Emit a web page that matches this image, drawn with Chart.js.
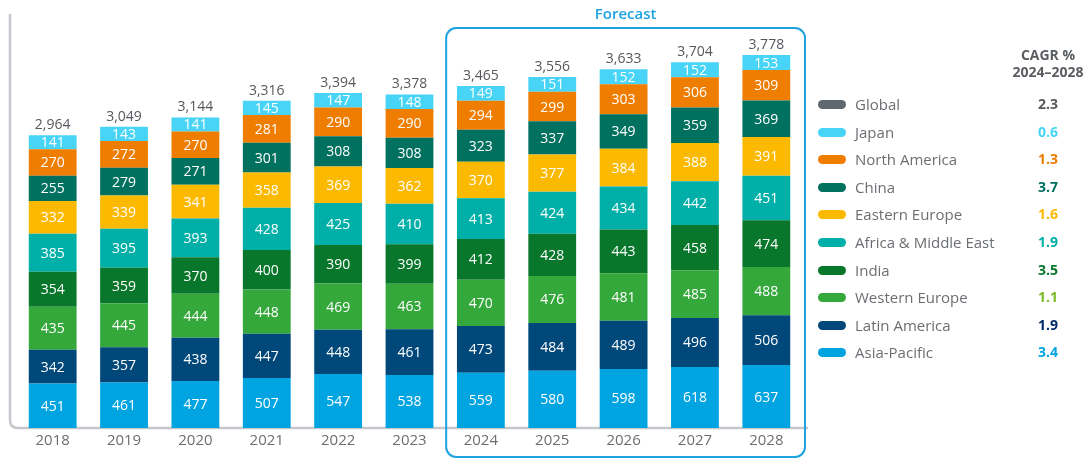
<!DOCTYPE html>
<html>
<head>
<meta charset="utf-8">
<script src="https://cdn.jsdelivr.net/npm/chart.js@4.4.1/dist/chart.umd.min.js"></script>
<style>
  html, body { margin: 0; padding: 0; background: #fff; }
  body { width: 1090px; height: 459px; position: relative; overflow: hidden; font-family: "Open Sans", sans-serif; }
  #wrap { position: absolute; left: 0; top: 0; width: 1090px; height: 459px; }
  #legend { position: absolute; left: 0; top: 0; }
  .row { position: absolute; left: 818px; height: 20px; width: 270px; }
  .sw { position: absolute; left: 0; top: 6px; width: 28px; height: 9px; border-radius: 5px; }
  .name { position: absolute; left: 37px; top: 0; font-size: 15px; line-height: 20px; color: #6b6e72; white-space: nowrap; }
  .val { position: absolute; left: 200px; width: 60px; text-align: center; top: 0; font-size: 14px; font-weight: bold; line-height: 20px; }
  .head { position: absolute; left: 1000px; width: 96px; top: 46px; text-align: center; font-size: 14px; font-weight: bold; color: #5a5d61; line-height: 17px; }
</style>
</head>
<body>
<div id="wrap"><canvas id="chart" width="1090" height="459"></canvas></div>
<div class="head">CAGR %<br>2024–2028</div>
<div id="legend"></div>
<script>
// categories
const years = ["2018", "2019", "2020", "2021", "2022", "2023", "2024", "2025", "2026", "2027", "2028"];

// series values (bottom of stack first)
const asiaPacific   = [451, 461, 477, 507, 547, 538, 559, 580, 598, 618, 637];
const latinAmerica  = [342, 357, 438, 447, 448, 461, 473, 484, 489, 496, 506];
const westernEurope = [435, 445, 444, 448, 469, 463, 470, 476, 481, 485, 488];
const india         = [354, 359, 370, 400, 390, 399, 412, 428, 443, 458, 474];
const africaME      = [385, 395, 393, 428, 425, 410, 413, 424, 434, 442, 451];
const easternEurope = [332, 339, 341, 358, 369, 362, 370, 377, 384, 388, 391];
const china         = [255, 279, 271, 301, 308, 308, 323, 337, 349, 359, 369];
const northAmerica  = [270, 272, 270, 281, 290, 290, 294, 299, 303, 306, 309];
const japan         = [141, 143, 141, 145, 147, 148, 149, 151, 152, 152, 153];

// printed totals on top of each bar
const totals = [2964, 3049, 3144, 3316, 3394, 3378, 3465, 3556, 3633, 3704, 3778];

// legend: names and CAGR 2024-2028, top to bottom
const legendNames = ["Global", "Japan", "North America", "China", "Eastern Europe", "Africa & Middle East", "India", "Western Europe", "Latin America", "Asia-Pacific"];
const cagrValues  = ["2.3", "0.6", "1.3", "3.7", "1.6", "1.9", "3.5", "1.1", "1.9", "3.4"];

const forecastFrom = "2024";

const colors = {
    "Global": "#5f686e",
    "Japan": "#47d4f6",
    "North America": "#ee7d00",
    "China": "#00705f",
    "Eastern Europe": "#fbb900",
    "Africa & Middle East": "#00afa8",
    "India": "#08772b",
    "Western Europe": "#35a83b",
    "Latin America": "#00477a",
    "Asia-Pacific": "#00a4e1"
};
const valueColors = {
    "Global": "#55585c",
    "Japan": "#47d4f6",
    "North America": "#ee7d00",
    "China": "#00705f",
    "Eastern Europe": "#fbb900",
    "Africa & Middle East": "#00afa8",
    "India": "#08772b",
    "Western Europe": "#7cba28",
    "Latin America": "#012a6b",
    "Asia-Pacific": "#00a4e1"
};

const stack = [
    ["Asia-Pacific", asiaPacific],
    ["Latin America", latinAmerica],
    ["Western Europe", westernEurope],
    ["India", india],
    ["Africa & Middle East", africaME],
    ["Eastern Europe", easternEurope],
    ["China", china],
    ["North America", northAmerica],
    ["Japan", japan]
];

// build the html legend
const legendDiv = document.getElementById("legend");
legendNames.forEach((name, i) => {
    const row = document.createElement("div");
    row.className = "row";
    row.style.top = (94 + i * 27.6) + "px";
    row.innerHTML = `<div class="sw" style="background:${colors[name]}"></div>
        <div class="name">${name}</div>
        <div class="val" style="color:${valueColors[name]}">${cagrValues[i]}</div>`;
    legendDiv.appendChild(row);
});

// frame, forecast box and labels
const decorPlugin = {
    id: "decor",
    beforeDatasetsDraw(chart) {
        const ctx = chart.ctx;
        const y0 = chart.scales.y.getPixelForValue(0);
        ctx.save();
        ctx.strokeStyle = "#c4c7cb";
        ctx.lineWidth = 2.5;
        ctx.beginPath();
        ctx.moveTo(10, 14);
        ctx.lineTo(10, y0 - 8);
        ctx.quadraticCurveTo(10, y0, 18, y0);
        ctx.lineTo(chart.chartArea.right + 6, y0);
        ctx.stroke();
        ctx.restore();
    },
    afterDraw(chart) {
        const ctx = chart.ctx;
        const x = chart.scales.x;
        const i = years.indexOf(forecastFrom);
        const left = (x.getPixelForValue(i - 1) + x.getPixelForValue(i)) / 2 + 1;
        const right = chart.chartArea.right + 3;
        const top = 28, bottom = 457, r = 10;
        ctx.save();
        ctx.strokeStyle = "#1ea3e2";
        ctx.lineWidth = 2;
        ctx.beginPath();
        ctx.roundRect(left, top, right - left, bottom - top, r);
        ctx.stroke();
        ctx.fillStyle = "#1ea3e2";
        ctx.font = "600 15px 'Open Sans'";
        ctx.textAlign = "center";
        ctx.textBaseline = "middle";
        ctx.fillText("Forecast", (left + right) / 2, 15);
        ctx.restore();
    }
};

const labelPlugin = {
    id: "segLabels",
    afterDatasetsDraw(chart) {
        const ctx = chart.ctx;
        ctx.save();
        ctx.textAlign = "center";
        ctx.textBaseline = "middle";
        ctx.font = "14px 'Open Sans'";
        ctx.fillStyle = "#ffffff";
        chart.data.datasets.forEach((ds, di) => {
            chart.getDatasetMeta(di).data.forEach((bar, j) => {
                ctx.fillText(ds.data[j], bar.x, (bar.y + bar.base) / 2 + 1);
            });
        });
        const topMeta = chart.getDatasetMeta(chart.data.datasets.length - 1);
        ctx.fillStyle = "#55585c";
        topMeta.data.forEach((bar, j) => {
            ctx.fillText(totals[j].toLocaleString("en-US"), bar.x, bar.y - 10);
        });
        ctx.restore();
    }
};

new Chart(document.getElementById("chart"), {
    type: "bar",
    data: {
        labels: years,
        datasets: stack.map(([name, values]) => ({
            label: name,
            data: values,
            backgroundColor: colors[name],
            borderWidth: 0,
            barPercentage: 0.67,
            categoryPercentage: 1
        }))
    },
    options: {
        responsive: false,
        animation: false,
        layout: { padding: { left: 17, right: 288, top: 0, bottom: 5 } },
        plugins: { legend: { display: false }, tooltip: { enabled: false } },
        scales: {
            x: {
                stacked: true,
                grid: { display: false, drawTicks: false },
                border: { display: false },
                ticks: { color: "#6b6e72", font: { family: "Open Sans", size: 15 }, padding: 4 }
            },
            y: {
                stacked: true,
                display: false,
                min: 0,
                max: 4335
            }
        }
    },
    plugins: [decorPlugin, labelPlugin]
});
</script>
</body>
</html>
